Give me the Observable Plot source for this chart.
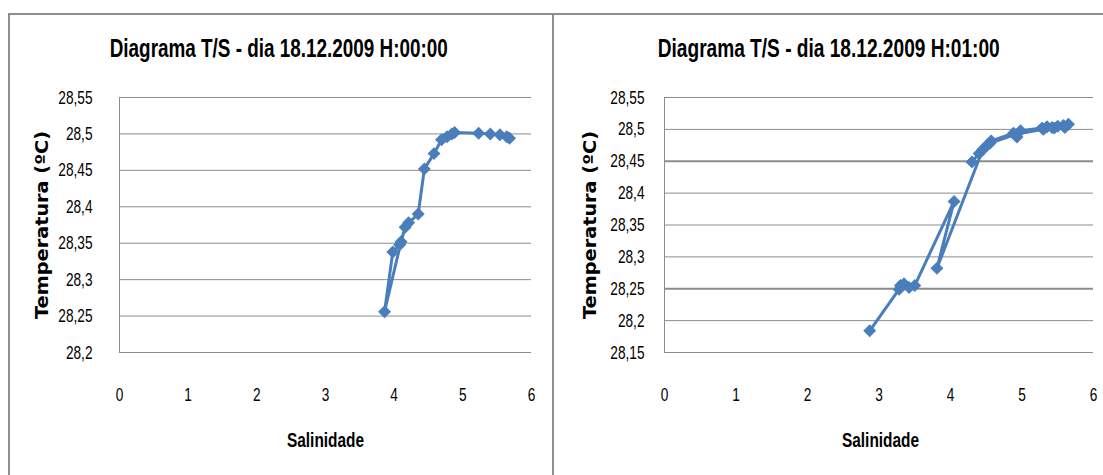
<!DOCTYPE html>
<html>
<head>
<meta charset="utf-8">
<script src="https://cdn.jsdelivr.net/npm/d3@7"></script>
<script src="https://cdn.jsdelivr.net/npm/@observablehq/plot@0.6"></script>
<style>
  html, body { margin: 0; padding: 0; background: #fff; width: 1103px; height: 475px; overflow: hidden; }
  .panel { position: absolute; box-sizing: border-box; border: 2px solid #8e8e8e; border-bottom: none; }
  .title { position: absolute; font-family: "Liberation Sans", Arial, sans-serif; font-weight: bold; font-size: 25px; line-height: 28px; color: #000; white-space: nowrap; }
  .xlab { position: absolute; font-family: "Liberation Sans", Arial, sans-serif; font-weight: bold; font-size: 21px; line-height: 24px; color: #000; white-space: nowrap; }
  .chart { position: absolute; }
</style>
</head>
<body>
<div class="panel" style="left:8px; top:13px; width:546px; height:480px;"></div>
<div class="panel" style="left:552px; top:13px; width:570px; height:480px;"></div>
<div class="title" data-cx="279" data-w="338" style="top:34px;">Diagrama T/S - dia 18.12.2009 H:00:00</div>
<div class="title" data-cx="829" data-w="342" style="top:34px;">Diagrama T/S - dia 18.12.2009 H:01:00</div>
<div class="xlab" data-cx="326" data-w="77" style="top:428px;">Salinidade</div>
<div class="xlab" data-cx="881" data-w="77" style="top:428px;">Salinidade</div>
<div id="c1" class="chart" style="left:10px; top:60px;"></div>
<div id="c2" class="chart" style="left:555px; top:60px;"></div>
<script>
// ---- Data: panel 1 (H:00:00) ----
const salA = [5.68, 5.64, 5.54, 5.40, 5.23, 4.88, 4.84, 4.77, 4.69, 4.58, 4.44, 4.35, 4.21, 4.16, 4.10, 3.86, 3.98, 4.08];
const tempA = [28.494, 28.496, 28.499, 28.500, 28.501, 28.502, 28.500, 28.496, 28.492, 28.473, 28.452, 28.390, 28.378, 28.372, 28.352, 28.256, 28.338, 28.348];
// ---- Data: panel 2 (H:01:00) ----
const salB = [4.30, 4.40, 4.50, 4.57, 4.88, 4.93, 4.98, 5.28, 5.35, 5.42, 5.50, 5.58, 5.65, 5.60, 5.45, 5.30, 4.90, 4.55, 4.45, 3.81, 4.05, 3.50, 3.42, 3.35, 3.30, 3.28, 2.87];
const tempB = [28.449, 28.462, 28.474, 28.482, 28.494, 28.488, 28.498, 28.502, 28.504, 28.503, 28.505, 28.506, 28.508, 28.503, 28.502, 28.500, 28.492, 28.478, 28.468, 28.282, 28.387, 28.255, 28.252, 28.258, 28.255, 28.249, 28.184];
// ---- Axis ticks ----
const xTicks = [0, 1, 2, 3, 4, 5, 6];
const yTicksA = [28.2, 28.25, 28.3, 28.35, 28.4, 28.45, 28.5, 28.55];
const yTicksB = [28.15, 28.2, 28.25, 28.3, 28.35, 28.4, 28.45, 28.5, 28.55];
const titleY = "Temperatura (ºC)";

const blue = "#4a7ebb";
const grid = "#8c8c8c";
const fmt = d => String(d).replace(".", ",");

function makeChart(sal, temp, yTicks, opts) {
  const data = sal.map((s, i) => ({s, t: temp[i]}));
  return Plot.plot({
    width: opts.width,
    height: 350,
    marginLeft: 109,
    marginRight: opts.marginRight,
    marginTop: 37,
    marginBottom: 58,
    style: {fontFamily: '"Liberation Sans", Arial, sans-serif', fontSize: "19px", color: "#000", background: "transparent", overflow: "visible"},
    x: {domain: [0, 6]},
    y: {domain: [yTicks[0], yTicks[yTicks.length - 1]]},
    marks: [
      Plot.ruleY(yTicks, {stroke: grid, strokeWidth: d => (opts.thick.includes(d) ? 2 : 1)}),
      Plot.ruleX([0], {stroke: grid, strokeWidth: 1}),
      Plot.axisX({ticks: xTicks, tickSize: 0, tickPadding: 35, label: null, tickFormat: d => String(d), className: "tk"}),
      Plot.axisY({ticks: yTicks, tickSize: 0, tickPadding: opts.yPad, label: null, tickFormat: fmt, className: "tk"}),
      Plot.line(data, {x: "s", y: "t", stroke: blue, strokeWidth: 3}),
      Plot.dot(data, {x: "s", y: "t", symbol: "square", rotate: 45, r: 4.6, fill: blue, stroke: blue, strokeWidth: 1}),
      Plot.text([titleY], {frameAnchor: "left", dx: opts.labDx, rotate: -90, textAnchor: "middle", text: d => d, fontWeight: "bold", fontSize: 17, fill: "#000", fontFamily: '"DejaVu Sans", sans-serif', className: "ylab"})
    ]
  });
}

const c1 = makeChart(salA, tempA, yTicksA, {width: 540, marginRight: 19, yPad: 27, labDx: -77, thick: []});
const c2 = makeChart(salB, tempB, yTicksB, {width: 548, marginRight: 10, yPad: 20, labDx: -74, thick: [28.45, 28.25]});
document.getElementById("c1").appendChild(c1);
document.getElementById("c2").appendChild(c2);

// tick text: larger but narrowed (reference font is a condensed face)
for (const c of [c1, c2]) {
  d3.select(c).selectAll("[class*='tk']").style("font-size", "19px").attr("font-size", 19);
  d3.select(c).selectAll("[class*='tk'] text").each(function() {
    this.style.fontSize = "19px";
    const len = this.getComputedTextLength();
    this.setAttribute("textLength", (len * 0.72).toFixed(1));
    this.setAttribute("lengthAdjust", "spacingAndGlyphs");
  });
  d3.select(c).selectAll("[class*='ylab'] text").attr("textLength", 188).attr("lengthAdjust", "spacingAndGlyphs");
}
// fit titles/x labels to the reference widths
document.querySelectorAll(".title, .xlab").forEach(el => {
  const w = el.getBoundingClientRect().width;
  const k = +el.dataset.w / w;
  el.style.left = (+el.dataset.cx - w / 2) + "px";
  el.style.transformOrigin = "50% 50%";
  el.style.transform = `scaleX(${k})`;
});
</script>
</body>
</html>
